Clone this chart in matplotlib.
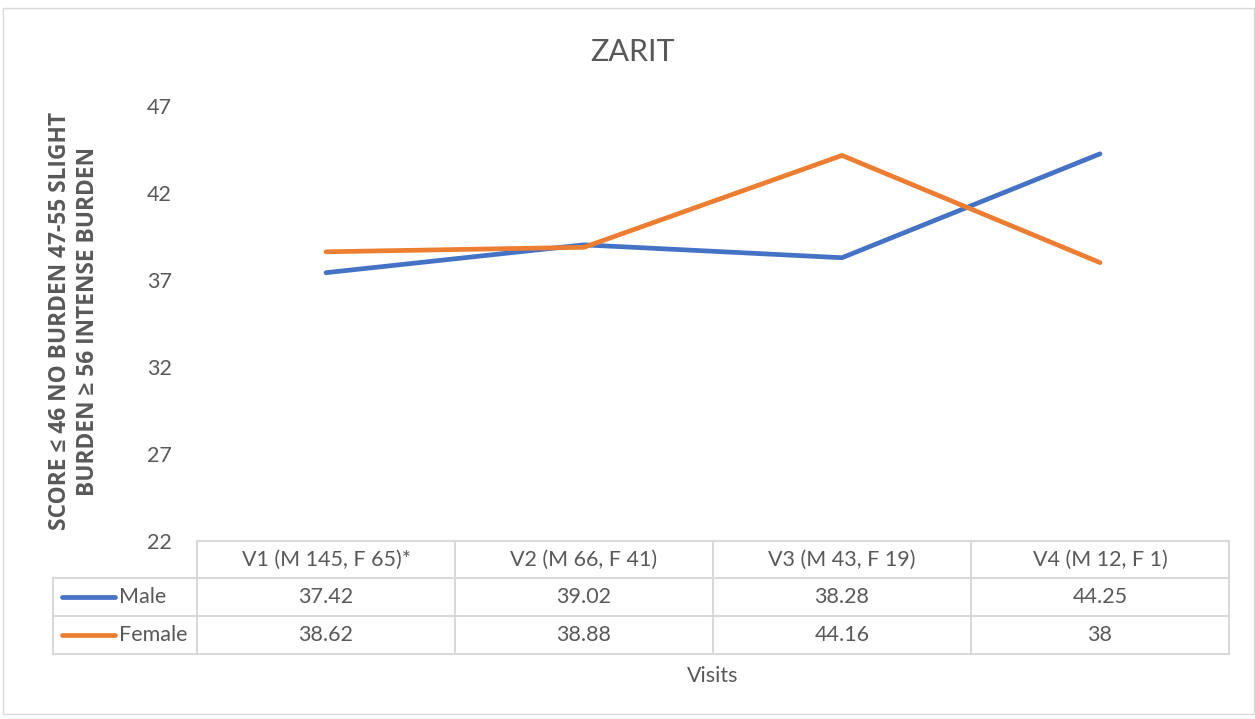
import matplotlib
matplotlib.use("Agg")
import matplotlib.pyplot as plt
from matplotlib.lines import Line2D
from matplotlib.patches import Rectangle
import matplotlib.transforms as mtransforms

categories = ["V1 (M 145, F 65)*", "V2 (M 66, F 41)", "V3 (M 43, F 19)", "V4 (M 12, F 1)"]
male = [37.42, 39.02, 38.28, 44.25]
female = [38.62, 38.88, 44.16, 38]
male_labels = ["37.42", "39.02", "38.28", "44.25"]
female_labels = ["38.62", "38.88", "44.16", "38"]
series_names = ["Male", "Female"]
yticks = [22, 27, 32, 37, 42, 47]

BLUE = "#4472C4"
ORANGE = "#ED7D31"
TXT = "#595959"
GRID = "#D9D9D9"
FAM = ["Lato", "DejaVu Sans"]
plt.rcParams["font.family"] = FAM
FS = 15.5

W, H = 1255, 719
fig = plt.figure(figsize=(W / 100, H / 100), dpi=100)


def fx(px):
    return px / W


def fy(py):
    return 1 - py / H


# outer border
fig.add_artist(Rectangle((fx(3), fy(714)), fx(1254) - fx(3), fy(8) - fy(714),
                         transform=fig.transFigure, fill=False, edgecolor=GRID, lw=1))

ax = fig.add_axes([fx(197), fy(541), fx(1229) - fx(197), fy(106) - fy(541)])
xs = list(range(len(categories)))
ax.plot(xs, male, color=BLUE, lw=3.4, solid_capstyle="round", solid_joinstyle="round")
ax.plot(xs, female, color=ORANGE, lw=3.4, solid_capstyle="round", solid_joinstyle="round")
ax.set_xlim(-0.5, len(categories) - 0.5)
ax.set_ylim(yticks[0], yticks[-1])
ax.set_yticks(yticks)
ax.set_xticks([])
for s in ax.spines.values():
    s.set_visible(False)
ax.tick_params(axis="y", length=0, pad=18, labelsize=FS, labelcolor=TXT)
ax.patch.set_alpha(0)

# title
fig.text(fx(633), fy(52), "ZARIT", ha="center", va="center", fontsize=22, color=TXT)

# y label
fig.text(fx(74), fy(321), "SCORE ≤ 46 NO BURDEN 47-55 SLIGHT\nBURDEN ≥ 56 INTENSE BURDEN",
         rotation=90, ha="center", va="center", fontsize=16.4, fontweight="bold",
         family=["Open Sans", "DejaVu Sans"], color=TXT, linespacing=1.22)

# data table
bt = mtransforms.blended_transform_factory(ax.transData, fig.transFigure)
rows_y = [541, 578, 616, 654]
fig.add_artist(Line2D([-0.5, len(categories) - 0.5], [fy(rows_y[0])] * 2, transform=bt,
                      color=GRID, lw=1.5))
for ry in rows_y[1:]:
    fig.add_artist(Line2D([fx(53), fx(1229)], [fy(ry)] * 2, transform=fig.transFigure,
                          color=GRID, lw=1.5))
for i in range(len(categories) + 1):
    fig.add_artist(Line2D([i - 0.5, i - 0.5], [fy(rows_y[0]), fy(rows_y[-1])], transform=bt,
                          color=GRID, lw=1.5))
fig.add_artist(Line2D([fx(53), fx(53)], [fy(rows_y[1]), fy(rows_y[-1])],
                      transform=fig.transFigure, color=GRID, lw=1.5))

for i, c in enumerate(categories):
    fig.text(i, fy(560), c, transform=bt, ha="center", va="center", fontsize=FS, color=TXT)
    fig.text(i, fy(597), male_labels[i], transform=bt, ha="center", va="center",
             fontsize=FS, color=TXT)
    fig.text(i, fy(635), female_labels[i], transform=bt, ha="center", va="center",
             fontsize=FS, color=TXT)

for name, col, cy in [(series_names[0], BLUE, 597), (series_names[1], ORANGE, 635)]:
    fig.add_artist(Line2D([fx(62), fx(115)], [fy(cy)] * 2, transform=fig.transFigure,
                          color=col, lw=3.4, solid_capstyle="round"))
    fig.text(fx(119), fy(cy), name, ha="left", va="center", fontsize=FS, color=TXT)

fig.text(0.5 * (fx(197) + fx(1229)), fy(676), "Visits", ha="center", va="center",
         fontsize=FS, color=TXT)

fig.savefig("out.png", dpi=100, facecolor="white")
